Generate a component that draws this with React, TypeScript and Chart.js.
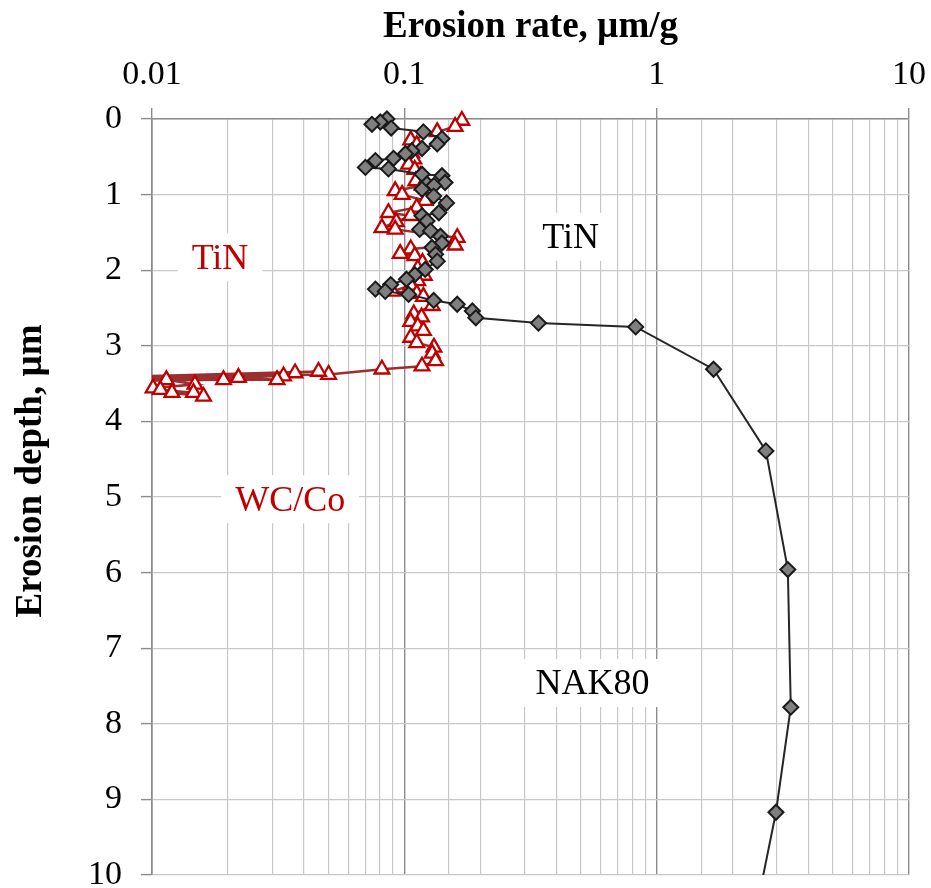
import React, { useEffect, useRef } from "react";
import { Chart, registerables } from "chart.js";

Chart.register(...registerables);

const FONT = "'Liberation Serif', 'Times New Roman', serif";

// ---- Data ----
// TiN on NAK80 (black diamonds): erosion rate (µm/g) and erosion depth (µm)
const nakRate = [
  0.0853, 0.0803, 0.0744, 0.0887, 0.119, 0.141, 0.135, 0.1175, 0.107, 0.101,
  0.0906, 0.0768, 0.0701, 0.0865, 0.1175, 0.141, 0.145, 0.123, 0.131, 0.1175,
  0.1307, 0.147, 0.137, 0.1175, 0.123, 0.115, 0.127, 0.139, 0.141, 0.1287,
  0.133, 0.135, 0.121, 0.11, 0.102, 0.0883, 0.0768, 0.084, 0.104, 0.1307,
  0.162, 0.186, 0.192, 0.34, 0.826, 1.68, 2.71, 3.31, 3.4, 2.97, 2.4,
];
const nakDepth = [
  0.0, 0.04, 0.07, 0.12, 0.17, 0.26, 0.33, 0.39, 0.42, 0.46,
  0.52, 0.55, 0.64, 0.66, 0.73, 0.75, 0.84, 0.86, 0.88, 0.93,
  1.02, 1.11, 1.24, 1.28, 1.35, 1.46, 1.48, 1.55, 1.64, 1.7,
  1.79, 1.88, 1.99, 2.06, 2.12, 2.19, 2.25, 2.28, 2.32, 2.4,
  2.45, 2.54, 2.63, 2.7, 2.75, 3.31, 4.39, 5.96, 7.78, 9.17, 10.7,
];

// TiN on WC/Co (red triangles)
const wcRate = [
  0.169, 0.159, 0.135, 0.106, 0.112, 0.107, 0.109, 0.104, 0.11, 0.116,
  0.111, 0.118, 0.092, 0.098, 0.121, 0.112, 0.0865, 0.106, 0.093, 0.0815,
  0.092, 0.162, 0.159, 0.106, 0.0963, 0.11, 0.118, 0.113, 0.12, 0.113,
  0.106, 0.0896, 0.112, 0.119, 0.129, 0.109, 0.117, 0.106, 0.113, 0.119,
  0.106, 0.112, 0.131, 0.129, 0.133, 0.1175, 0.0815, 0.0501, 0.006, 0.0457,
  0.005, 0.0369, 0.0332, 0.006, 0.0313, 0.022, 0.0192, 0.005, 0.0114, 0.0148,
  0.0101, 0.0108, 0.0146, 0.012, 0.016,
];
const wcDepth = [
  0.02, 0.1, 0.17, 0.28, 0.34, 0.45, 0.53, 0.6, 0.67, 0.75,
  0.82, 0.88, 0.95, 1.0, 1.08, 1.17, 1.24, 1.28, 1.36, 1.44,
  1.46, 1.57, 1.67, 1.72, 1.78, 1.81, 1.9, 1.98, 2.07, 2.14,
  2.2, 2.28, 2.31, 2.35, 2.47, 2.58, 2.62, 2.68, 2.74, 2.8,
  2.89, 2.96, 3.02, 3.1, 3.2, 3.27, 3.31, 3.38, 3.42, 3.34,
  3.44, 3.36, 3.4, 3.45, 3.45, 3.42, 3.45, 3.47, 3.45, 3.51,
  3.56, 3.58, 3.62, 3.62, 3.67,
];

const xTickLabels = ["0.01", "0.1", "1", "10"];
const xMin = 0.01;
const xMax = 10;
const yMin = 0;
const yMax = 10;

const xTitle = "Erosion rate, µm/g";
const yTitle = "Erosion depth, µm";

const annotationTexts = ["TiN", "TiN", "WC/Co", "NAK80"];
const annotationX = [0.0186, 0.456, 0.0353, 0.557];
const annotationY = [1.83, 1.56, 5.03, 7.46];
const annotationColors = ["#c00000", "#000000", "#c00000", "#000000"];

// ---- helpers ----
const toPoints = (xs: number[], ys: number[]) => xs.map((x, i) => ({ x, y: ys[i] }));
const inRange = (p: { x: number; y: number }) =>
  p.x >= xMin && p.x <= xMax && p.y >= yMin && p.y <= yMax;
const isDecade = (v: number) => {
  if (!(v > 0)) return false;
  const l = Math.log10(v);
  return Math.abs(l - Math.round(l)) < 1e-6;
};

const overlayPlugin = {
  id: "overlay",
  beforeDatasetsDraw(chart: any) {
    const { ctx, scales } = chart;
    const xs = scales.x;
    const ys = scales.y;
    ctx.save();
    ctx.font = `36px ${FONT}`;
    ctx.textAlign = "center";
    ctx.textBaseline = "middle";
    annotationTexts.forEach((t, i) => {
      const px = xs.getPixelForValue(annotationX[i]);
      const py = ys.getPixelForValue(annotationY[i]);
      const w = ctx.measureText(t).width + 28;
      const h = 48;
      ctx.fillStyle = "#ffffff";
      ctx.fillRect(px - w / 2, py - h / 2, w, h);
      ctx.fillStyle = annotationColors[i];
      ctx.fillText(t, px, py + 2);
    });
    ctx.restore();
  },
  afterDraw(chart: any) {
    const { ctx, chartArea } = chart;
    ctx.save();
    ctx.fillStyle = "#000";
    ctx.font = `bold 37px ${FONT}`;
    ctx.textAlign = "center";
    ctx.textBaseline = "alphabetic";
    ctx.fillText(xTitle, (chartArea.left + chartArea.right) / 2, chartArea.top - 82);
    ctx.translate(41, (chartArea.top + chartArea.bottom) / 2 - 26);
    ctx.rotate(-Math.PI / 2);
    ctx.fillText(yTitle, 0, 0);
    ctx.restore();
  },
};

export default function App() {
  const ref = useRef<HTMLCanvasElement | null>(null);

  useEffect(() => {
    if (!ref.current) return;
    const nakPts = toPoints(nakRate, nakDepth);
    const wcPts = toPoints(wcRate, wcDepth);

    const chart = new Chart(ref.current, {
      type: "scatter",
      data: {
        datasets: [
          {
            label: "NAK80 markers",
            data: nakPts.filter(inRange),
            showLine: false,
            pointStyle: "rectRot",
            pointRadius: 7.5,
            pointBackgroundColor: "#7f7f7f",
            pointBorderColor: "#1a1a1a",
            pointBorderWidth: 2,
            clip: false as any,
            order: 0,
          },
          {
            label: "NAK80 line",
            data: nakPts,
            showLine: true,
            borderColor: "#262626",
            borderWidth: 2,
            pointRadius: 0,
            tension: 0,
            order: 1,
          },
          {
            label: "WC/Co markers",
            data: wcPts.filter(inRange),
            showLine: false,
            pointStyle: "triangle",
            pointRadius: 8.5,
            pointBackgroundColor: "#ffffff",
            pointBorderColor: "#c00000",
            pointBorderWidth: 2.3,
            clip: false as any,
            order: 2,
          },
          {
            label: "WC/Co line",
            data: wcPts,
            showLine: true,
            borderColor: "rgba(150,35,35,0.95)",
            borderWidth: 2.5,
            pointRadius: 0,
            tension: 0,
            order: 3,
          },
        ],
      },
      options: {
        responsive: false,
        animation: false,
        devicePixelRatio: 1,
        layout: { padding: { left: 0, top: 0, right: 22, bottom: 13 } },
        plugins: {
          legend: { display: false },
          tooltip: { enabled: false },
        },
        scales: {
          x: {
            type: "logarithmic",
            position: "top",
            min: xMin,
            max: xMax,
            afterFit: (scale: any) => {
              scale.height = 119;
              scale.paddingLeft = 0;
              scale.paddingRight = 0;
            },
            ticks: {
              autoSkip: false,
              maxRotation: 0,
              minRotation: 0,
              padding: 13,
              color: "#000",
              font: { family: FONT, size: 34 },
              callback: (value: any) => {
                const v = Number(value);
                if (!isDecade(v)) return "";
                const idx = Math.round(Math.log10(v)) - Math.round(Math.log10(xMin));
                return xTickLabels[idx] ?? "";
              },
            },
            grid: {
              color: (c: any) => (c.tick && isDecade(c.tick.value) ? "#8c8c8c" : "#c8c8c8"),
              lineWidth: (c: any) => (c.tick && isDecade(c.tick.value) ? 1.4 : 1.2),
              tickLength: 11,
              tickColor: (c: any) => (c.tick && isDecade(c.tick.value) ? "#8c8c8c" : "rgba(0,0,0,0)"),
              tickWidth: 1.4,
            },
            border: { color: "#8c8c8c", width: 1.6 },
          },
          y: {
            type: "linear",
            position: "left",
            reverse: true,
            min: yMin,
            max: yMax,
            afterFit: (scale: any) => {
              scale.width = 152;
              scale.paddingTop = 0;
              scale.paddingBottom = 0;
            },
            ticks: {
              stepSize: 1,
              padding: 19,
              color: "#000",
              font: { family: FONT, size: 34 },
            },
            grid: {
              color: "#c8c8c8",
              lineWidth: 1.2,
              tickLength: 11,
              tickColor: "#8c8c8c",
              tickWidth: 1.4,
            },
            border: { color: "#8c8c8c", width: 1.6 },
          },
        },
      } as any,
      plugins: [overlayPlugin],
    });

    return () => chart.destroy();
  }, []);

  return (
    <div style={{ position: "absolute", left: 0, top: 0, width: 931, height: 888, background: "#fff" }}>
      <canvas ref={ref} width={931} height={888} style={{ display: "block" }} />
    </div>
  );
}
